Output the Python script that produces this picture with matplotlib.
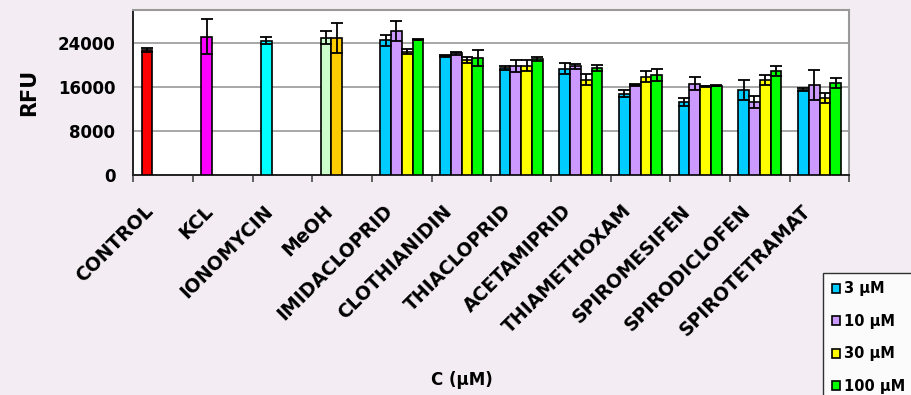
import matplotlib
matplotlib.use("Agg")
import matplotlib.pyplot as plt
import matplotlib.transforms as mtransforms
from matplotlib.patches import Patch
from matplotlib.ticker import FixedLocator
import numpy as np

# categories on the x axis
categories = ['CONTROL', 'KCL', 'IONOMYCIN', 'MeOH', 'IMIDACLOPRID',
              'CLOTHIANIDIN', 'THIACLOPRID', 'ACETAMIPRID', 'THIAMETHOXAM',
              'SPIROMESIFEN', 'SPIRODICLOFEN', 'SPIROTETRAMAT']
conc_labels = ['3 µM', '10 µM', '30 µM', '100 µM']

# reference conditions (first bar of the first four groups)
ref_rfu = [22700, 25100, 24400, 24900]
ref_err = [400, 3200, 700, 1200]
# second MeOH bar
meoh_b_rfu = 24900
meoh_b_err = 2700

# compounds, one list per concentration
rfu_3 = [24500, 21600, 19400, 19300, 14750, 13230, 15480, 15480]
err_3 = [1000, 150, 300, 1000, 650, 700, 1800, 300]
rfu_10 = [26100, 22100, 19850, 19730, 16330, 16570, 13170, 16330]
err_10 = [1800, 300, 1100, 500, 100, 1200, 1100, 2700]
rfu_30 = [22400, 20900, 19850, 17300, 17790, 16090, 17300, 13960]
err_30 = [500, 500, 1000, 950, 1000, 150, 900, 900]
rfu_100 = [24580, 21250, 21060, 19420, 18150, 16210, 18820, 16690]
err_100 = [100, 1500, 400, 500, 1000, 100, 900, 900]

ref_colors = ['#FF0000', '#FF00FF', '#00FFFF', '#CCFFCC']
meoh_b_color = '#FFCC00'
conc_colors = ['#00CCFF', '#CC99FF', '#FFFF00', '#00FF00']

bg = '#f3edf3'
width = 0.18
offsets = (np.arange(4) - 1.5) * width

fig = plt.figure(figsize=(9.12, 3.95), dpi=100, facecolor=bg)
ax = fig.add_axes([0.1462, 0.557, 0.7851, 0.4184])
ax.set_facecolor('white')

bar_kw = dict(width=width, edgecolor='black', linewidth=1.2, zorder=3)
err_kw = dict(fmt='none', ecolor='black', elinewidth=1.3, capsize=4.3,
              capthick=1.3, zorder=4)

# reference bars
x_ref = np.arange(len(ref_rfu)) + offsets[0]
ax.bar(x_ref, ref_rfu, color=ref_colors, **bar_kw)
ax.errorbar(x_ref, ref_rfu, yerr=ref_err, **err_kw)
x_meoh = 3 + offsets[1]
ax.bar([x_meoh], [meoh_b_rfu], color=meoh_b_color, **bar_kw)
ax.errorbar([x_meoh], [meoh_b_rfu], yerr=[meoh_b_err], **err_kw)

# compound bars
series = [(rfu_3, err_3), (rfu_10, err_10), (rfu_30, err_30), (rfu_100, err_100)]
x_comp = np.arange(4, len(categories))
for k, (vals, errs) in enumerate(series):
    ax.bar(x_comp + offsets[k], vals, color=conc_colors[k], **bar_kw)
    ax.errorbar(x_comp + offsets[k], vals, yerr=errs, **err_kw)

ax.set_xlim(-0.5, len(categories) - 0.5)
ax.set_ylim(0, 30000)
ax.set_yticks([0, 8000, 16000, 24000])
ax.yaxis.grid(True, color='#a0a0a0', linewidth=1.3, zorder=0)
ax.tick_params(axis='y', length=0, pad=13, labelsize=12)
for lab in ax.get_yticklabels():
    lab.set_fontweight('bold')

ax.set_xticks(np.arange(len(categories)))
ax.set_xticklabels(categories, rotation=45, ha='right', va='top',
                   rotation_mode='anchor', fontsize=13.5, fontweight='bold')
ax.tick_params(axis='x', which='major', length=0, pad=19)
# shift the slanted labels a bit to the left, as in the original
shift = mtransforms.ScaledTranslation(-0.19, 0, fig.dpi_scale_trans)
for lab in ax.get_xticklabels():
    lab.set_transform(lab.get_transform() + shift)
ax.xaxis.set_minor_locator(FixedLocator(np.arange(len(categories) + 1) - 0.5))
ax.tick_params(axis='x', which='minor', length=5, width=1.3, color='#555555')

for side in ['top', 'right']:
    ax.spines[side].set_color('#999999')
    ax.spines[side].set_linewidth(1.5)
for side in ['left', 'bottom']:
    ax.spines[side].set_color('#222222')
    ax.spines[side].set_linewidth(1.4)

fig.text(29 / 912, 1 - 92 / 395, 'RFU', rotation=90, ha='center', va='center',
         fontsize=15, fontweight='bold')
fig.text(462 / 912, 1 - 380 / 395, 'C (µM)', ha='center', va='center',
         fontsize=12, fontweight='bold')

handles = [Patch(facecolor=c, edgecolor='black', linewidth=1.2) for c in conc_colors]
leg = fig.legend(handles, conc_labels, loc='upper left',
                 bbox_to_anchor=(823 / 912, 1 - 272.7 / 395),
                 prop=dict(size=10.5, weight='bold'), frameon=True, fancybox=False,
                 edgecolor='black', handlelength=0.55, handleheight=0.55,
                 handletextpad=0.3, labelspacing=1.2, borderpad=0.6,
                 borderaxespad=0)
leg.get_frame().set_linewidth(1.0)
leg.get_frame().set_facecolor('white')

fig.savefig('out.png', dpi=100, facecolor=bg)
